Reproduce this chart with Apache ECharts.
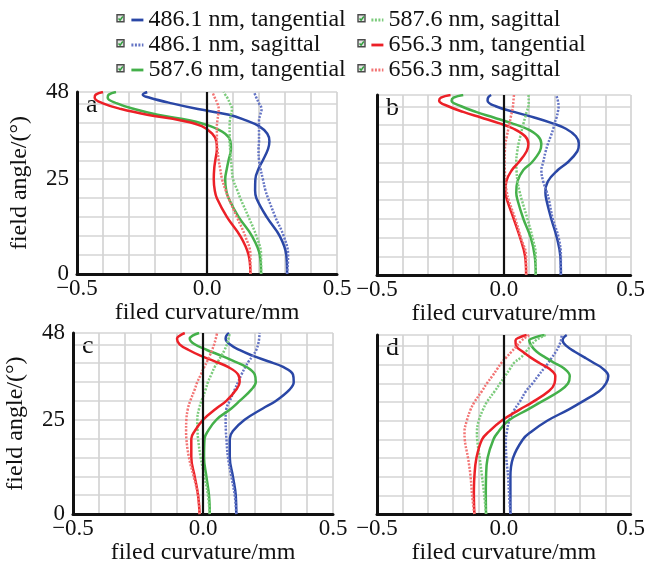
<!DOCTYPE html>
<html>
<head>
<meta charset="utf-8">
<script src="https://cdn.jsdelivr.net/npm/echarts@6/dist/echarts.min.js"></script>
<style>
html, body { margin: 0; padding: 0; background: #fff; }
#main { width: 648px; height: 566px; }
</style>
</head>
<body>
<div id="main"></div>
<script>
var FIELD = [0, 5, 10, 15, 20, 22, 25, 28, 30, 33, 35, 37, 39, 40.5, 42, 43.5, 45, 46.5, 47.3, 48];

var NAMES = ['486.1 nm, tangential', '486.1 nm, sagittal', '587.6 nm, tangential',
             '587.6 nm, sagittal', '656.3 nm, tangential', '656.3 nm, sagittal'];
var COLORS = ['#2a47a6', '#6474c4', '#44b04a', '#7ccb7c', '#ec2027', '#f27474'];
var PANEL_LABELS = ['a', 'b', 'c', 'd'];
var X_TICKS = [-0.5, 0, 0.5];
var Y_TICKS = [0, 25, 48];

// panel a
var a486T = [0.308, 0.305, 0.28, 0.23, 0.19, 0.185, 0.186, 0.2, 0.215, 0.235, 0.24, 0.232, 0.2, 0.15, 0.085, -0.035, -0.135, -0.22, -0.247, -0.23];
var a486S = [0.308, 0.312, 0.295, 0.263, 0.235, 0.225, 0.215, 0.205, 0.2, 0.198, 0.2, 0.2, 0.2, 0.2, 0.205, 0.21, 0.2, 0.19, 0.185, 0.18];
var a588T = [0.208, 0.203, 0.173, 0.122, 0.083, 0.074, 0.07, 0.077, 0.083, 0.092, 0.09, 0.07, 0.013, -0.064, -0.19, -0.28, -0.346, -0.382, -0.378, -0.35];
var a588S = [0.208, 0.208, 0.19, 0.16, 0.128, 0.117, 0.1, 0.095, 0.092, 0.089, 0.087, 0.087, 0.087, 0.088, 0.092, 0.096, 0.088, 0.078, 0.07, 0.064];
var a656T = [0.167, 0.16, 0.128, 0.077, 0.038, 0.03, 0.026, 0.028, 0.032, 0.038, 0.036, 0.02, -0.02, -0.1, -0.23, -0.33, -0.4, -0.432, -0.428, -0.4];
var a656S = [0.167, 0.167, 0.147, 0.115, 0.083, 0.072, 0.058, 0.05, 0.045, 0.04, 0.038, 0.038, 0.038, 0.04, 0.043, 0.045, 0.04, 0.03, 0.025, 0.02];

// panel b
var b486T = [0.225, 0.223, 0.209, 0.187, 0.168, 0.164, 0.174, 0.213, 0.251, 0.29, 0.296, 0.284, 0.245, 0.19, 0.12, 0.04, -0.032, -0.064, -0.062, -0.05];
var b486S = [0.225, 0.225, 0.216, 0.193, 0.178, 0.17, 0.155, 0.148, 0.155, 0.165, 0.174, 0.185, 0.195, 0.2, 0.208, 0.213, 0.216, 0.213, 0.21, 0.206];
var b588T = [0.126, 0.122, 0.106, 0.077, 0.054, 0.049, 0.054, 0.077, 0.11, 0.142, 0.148, 0.135, 0.09, 0.03, -0.04, -0.11, -0.168, -0.206, -0.198, -0.16];
var b588S = [0.126, 0.126, 0.113, 0.093, 0.071, 0.063, 0.054, 0.05, 0.049, 0.053, 0.058, 0.065, 0.072, 0.078, 0.084, 0.09, 0.097, 0.098, 0.098, 0.097];
var b656T = [0.088, 0.084, 0.064, 0.039, 0.013, 0.006, 0.01, 0.032, 0.058, 0.09, 0.097, 0.084, 0.039, -0.02, -0.09, -0.16, -0.219, -0.255, -0.248, -0.21];
var b656S = [0.088, 0.088, 0.067, 0.045, 0.019, 0.012, 0.006, 0.004, 0.003, 0.004, 0.006, 0.012, 0.018, 0.023, 0.027, 0.032, 0.036, 0.038, 0.039, 0.04];

// panel c
var c486T = [0.128, 0.126, 0.115, 0.103, 0.103, 0.115, 0.16, 0.23, 0.28, 0.333, 0.349, 0.346, 0.308, 0.25, 0.19, 0.14, 0.103, 0.087, 0.09, 0.1];
var c486S = [0.128, 0.122, 0.109, 0.096, 0.09, 0.088, 0.087, 0.09, 0.103, 0.122, 0.135, 0.148, 0.163, 0.176, 0.192, 0.205, 0.212, 0.216, 0.217, 0.218];
var c588T = [0.026, 0.023, 0.013, 0.004, 0.006, 0.019, 0.051, 0.109, 0.141, 0.186, 0.203, 0.199, 0.167, 0.12, 0.07, 0.015, -0.032, -0.051, -0.04, -0.015];
var c588S = [0.026, 0.019, 0.006, -0.009, -0.019, -0.021, -0.022, -0.015, -0.006, 0.01, 0.019, 0.032, 0.045, 0.058, 0.071, 0.083, 0.092, 0.098, 0.101, 0.103];
var c656T = [-0.013, -0.019, -0.032, -0.045, -0.045, -0.032, 0.0, 0.051, 0.09, 0.128, 0.141, 0.135, 0.096, 0.045, -0.01, -0.055, -0.09, -0.1, -0.09, -0.07];
var c656S = [-0.013, -0.019, -0.036, -0.054, -0.064, -0.065, -0.064, -0.058, -0.049, -0.032, -0.022, -0.008, 0.005, 0.016, 0.026, 0.035, 0.043, 0.049, 0.052, 0.054];

// panel d
var d486T = [0.026, 0.026, 0.026, 0.036, 0.075, 0.107, 0.171, 0.255, 0.306, 0.377, 0.403, 0.412, 0.39, 0.355, 0.318, 0.28, 0.248, 0.232, 0.236, 0.248];
var d486S = [0.026, 0.021, 0.017, 0.01, 0.008, 0.012, 0.021, 0.042, 0.062, 0.088, 0.113, 0.135, 0.158, 0.175, 0.19, 0.205, 0.217, 0.225, 0.227, 0.229];
var d588T = [-0.07, -0.071, -0.07, -0.064, -0.041, -0.022, 0.017, 0.094, 0.145, 0.22, 0.253, 0.26, 0.238, 0.2, 0.163, 0.13, 0.11, 0.1, 0.12, 0.16];
var d588S = [-0.07, -0.077, -0.086, -0.095, -0.105, -0.106, -0.099, -0.082, -0.067, -0.035, -0.015, 0.005, 0.025, 0.04, 0.068, 0.087, 0.105, 0.125, 0.145, 0.165];
var d656T = [-0.116, -0.118, -0.116, -0.108, -0.086, -0.06, -0.009, 0.062, 0.113, 0.178, 0.2, 0.203, 0.178, 0.14, 0.105, 0.075, 0.049, 0.046, 0.06, 0.09];
var d656S = [-0.116, -0.125, -0.131, -0.141, -0.154, -0.155, -0.146, -0.131, -0.116, -0.086, -0.067, -0.045, -0.025, -0.01, 0.01, 0.03, 0.05, 0.07, 0.085, 0.1];

var PANELS = [
    [a486T, a486S, a588T, a588S, a656T, a656S],
    [b486T, b486S, b588T, b588S, b656T, b656S],
    [c486T, c486S, c588T, c588S, c656T, c656S],
    [d486T, d486S, d588T, d588S, d656T, d656S]
];

var FONT = '"Liberation Serif", "Times New Roman", serif';
var grids = [
    {left: 77, top: 92, width: 260, height: 182},
    {left: 377, top: 95, width: 259, height: 180},
    {left: 73, top: 333, width: 260, height: 183},
    {left: 377, top: 335, width: 260, height: 179}
];

function near(v, t) { return Math.abs(v - t) < 1e-6; }

var xAxes = [], yAxes = [], series = [], graphics = [];
grids.forEach(function(g, i) {
    xAxes.push({
        type: 'value', gridIndex: i, min: -0.5, max: 0.5, interval: 0.1,
        name: 'filed curvature/mm', nameLocation: 'middle', nameGap: 24,
        nameTextStyle: {fontFamily: FONT, fontSize: 24, color: '#111'},
        axisLine: {show: true, onZero: false, lineStyle: {color: '#111', width: 3}},
        axisTick: {show: false},
        axisLabel: {
            fontFamily: FONT, fontSize: 23, color: '#111', margin: 3,
            formatter: function(v) {
                if (near(v, X_TICKS[0])) return '\u22120.5';
                if (near(v, X_TICKS[1])) return '0.0';
                if (near(v, X_TICKS[2])) return '0.5';
                return '';
            }
        },
        splitLine: {show: true, lineStyle: {color: '#d4d4d4', width: 1.7}}
    });
    var left = (i % 2 === 0);
    yAxes.push({
        type: 'value', gridIndex: i, min: 0, max: 48, interval: 5,
        name: left ? 'field angle/(\u00b0)' : '', nameLocation: 'middle', nameGap: 45,
        nameTextStyle: {fontFamily: FONT, fontSize: 24, color: '#111'},
        axisLine: {show: true, onZero: false, lineStyle: {color: '#111', width: 3}},
        axisTick: {show: false},
        axisLabel: {
            show: left, fontFamily: FONT, fontSize: 23, color: '#111', margin: 8,
            formatter: function(v) {
                return Y_TICKS.some(function(t) { return near(v, t); }) ? String(v) : '';
            }
        },
        splitLine: {show: true, lineStyle: {color: '#d4d4d4', width: 1.7}}
    });
    PANELS[i].forEach(function(vals, k) {
        var sag = (k % 2 === 1);
        var s = {
            name: NAMES[k], type: 'line', xAxisIndex: i, yAxisIndex: i,
            data: vals.map(function(x, j) { return [x, FIELD[j]]; }),
            smooth: 0.4, symbol: 'none', animation: false,
            lineStyle: {color: COLORS[k], width: 2.5, type: sag ? [2, 1.5] : 'solid'},
            itemStyle: {color: COLORS[k]}
        };
        if (k === 0) {
            s.markLine = {
                silent: true, symbol: 'none', animation: false,
                label: {show: false},
                lineStyle: {color: '#111', width: 2.2, type: 'solid'},
                data: [{xAxis: 0}]
            };
        }
        series.push(s);
    });
    graphics.push({
        type: 'text', left: g.left + 9, top: g.top,
        style: {text: PANEL_LABELS[i], font: '26px ' + FONT, fill: '#111'}
    });
});

// checkbox marks in front of each legend entry
[116, 357].forEach(function(cx) {
    [18, 43, 68].forEach(function(cy) {
        graphics.push({
            type: 'group', left: cx, top: cy - 4,
            children: [
                {type: 'rect', shape: {x: 0, y: 0, width: 7, height: 7},
                 style: {fill: '#e4e4e4', stroke: '#4a4a4a', lineWidth: 1.4}},
                {type: 'polyline', shape: {points: [[1.5, 3.8], [3.1, 5.4], [5.8, 1.8]]},
                 style: {stroke: '#2f9e3c', lineWidth: 1.5, fill: null}}
            ]
        });
    });
});

var legendBase = {
    orient: 'vertical', itemWidth: 12, itemHeight: 10, itemGap: 1,
    selectedMode: false,
    itemStyle: {opacity: 0},
    lineStyle: {width: 2.8},
    textStyle: {fontFamily: FONT, fontSize: 24, lineHeight: 24, color: '#111', padding: [0, 0, 0, 0]}
};
var myChart = echarts.init(document.getElementById('main'));
myChart.setOption({
    backgroundColor: '#fff',
    animation: false,
    legend: [
        Object.assign({}, legendBase, {left: 125, top: 3, data: NAMES.slice(0, 3)}),
        Object.assign({}, legendBase, {left: 365, top: 3, data: NAMES.slice(3)})
    ],
    grid: grids,
    xAxis: xAxes,
    yAxis: yAxes,
    graphic: graphics,
    series: series
});
</script>
</body>
</html>
